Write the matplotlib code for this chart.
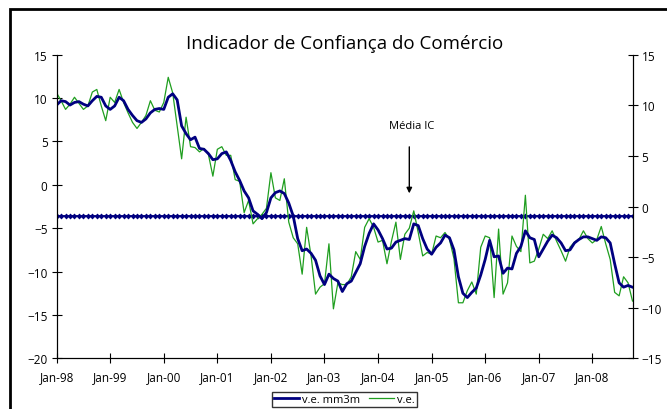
import numpy as np
import matplotlib
matplotlib.use('Agg')
import matplotlib.pyplot as plt
from matplotlib.patches import Rectangle

plt.rcParams['font.family'] = ['Open Sans', 'DejaVu Sans']

# %% Data: monthly values Jan-98 .. Oct-08
ve = [10.6, 9.7, 8.7, 9.3, 10.1, 9.4, 8.7, 9.1, 10.7, 11.0, 9.1, 7.4,
      10.1, 9.5, 11.0, 9.5, 8.3, 7.2, 6.5, 7.2, 8.0, 9.7, 8.6, 8.4,
      9.5, 12.4, 10.6, 6.8, 3.0, 7.8, 4.4, 4.3, 3.8, 4.2, 3.5, 1.0,
      4.1, 4.4, 3.4, 3.4, 0.6, 0.4, -3.2, -1.8, -4.5, -3.9, -3.4, -2.7,
      1.4, -1.5, -1.8, 0.7, -4.3, -6.1, -6.8, -10.3, -4.9, -8.2, -12.6, -11.8,
      -11.4, -6.8, -14.3, -11.3, -11.5, -11.5, -10.6, -7.7, -8.6, -4.9, -3.9, -4.9,
      -6.6, -6.4, -9.1, -6.5, -4.3, -8.6, -5.7, -5.0, -3.0, -5.5, -8.2, -7.8,
      -8.0, -5.9, -6.1, -5.5, -6.3, -8.5, -13.6, -13.6, -12.2, -11.2, -12.6, -7.2,
      -5.9, -6.1, -13.0, -5.1, -12.6, -11.3, -5.9, -7.1, -7.7, -1.2, -9.0, -8.8,
      -7.4, -5.7, -6.2, -5.3, -6.5, -7.6, -8.8, -7.2, -6.6, -6.3, -5.3, -6.2,
      -6.7, -6.3, -4.8, -6.8, -8.6, -12.4, -12.8, -10.6, -11.3, -13.4]

ve_mm3m = [9.2, 9.7, 9.6, 9.2, 9.5, 9.6, 9.3, 9.1, 9.7, 10.2, 10.1, 9.1,
           8.7, 9.1, 10.1, 9.7, 8.7, 8.0, 7.4, 7.2, 7.6, 8.3, 8.7, 8.8,
           8.7, 10.1, 10.5, 9.8, 6.8, 5.9, 5.2, 5.5, 4.2, 4.1, 3.6, 2.9,
           3.0, 3.6, 3.8, 2.8, 1.5, 0.5, -0.7, -1.5, -3.0, -3.4, -3.9, -3.2,
           -1.5, -0.9, -0.7, -1.0, -2.1, -3.6, -6.2, -7.6, -7.4, -7.9, -8.7, -10.5,
           -11.5, -10.3, -10.8, -11.1, -12.3, -11.4, -11.1, -10.1, -9.1, -7.1, -5.6, -4.5,
           -5.2, -6.2, -7.4, -7.3, -6.6, -6.4, -6.2, -6.3, -4.5, -4.7, -6.2, -7.4,
           -8.0, -7.2, -6.7, -5.8, -6.1, -7.5, -10.6, -12.5, -13.0, -12.4, -11.9, -10.4,
           -8.6, -6.4, -8.3, -8.2, -10.2, -9.6, -9.7, -7.9, -7.1, -5.3, -6.1, -6.3,
           -8.3, -7.4, -6.5, -5.8, -6.1, -6.7, -7.6, -7.5, -6.7, -6.3, -6.0, -6.0,
           -6.2, -6.4, -6.0, -6.1, -6.7, -9.1, -11.3, -11.8, -11.6, -11.8]

media_ic = -3.6
year_labels = ['Jan-98', 'Jan-99', 'Jan-00', 'Jan-01', 'Jan-02', 'Jan-03',
               'Jan-04', 'Jan-05', 'Jan-06', 'Jan-07', 'Jan-08']
left_ticks = [15, 10, 5, 0, -5, -10, -15, -20]
right_ticks = [15, 10, 5, 0, -5, -10, -15]
arrow_month = 79  # Aug-04

months = np.arange(len(ve))
media = np.full(len(ve), media_ic)

navy = '#000080'
green = '#1f9e1f'

# %% Figure
fig = plt.figure(figsize=(6.67, 4.10), dpi=100)
ax = fig.add_axes([0.0849, 0.1237, 0.8634, 0.7403])

ax.plot(months, media, color=navy, lw=1.3, marker='D', ms=3.0,
        markeredgewidth=0, zorder=2)
l1, = ax.plot(months, ve_mm3m, color=navy, lw=2.0, label='v.e. mm3m', zorder=4)
l2, = ax.plot(months, ve, color=green, lw=0.9, label='v.e.', zorder=3)

ax.set_xlim(0, months[-1])
ax.set_ylim(-20, 15)
ax.set_yticks(left_ticks)
ax.set_xticks(np.arange(0, len(ve), 12))
ax.set_xticklabels(year_labels)
ax.tick_params(direction='inout', length=7, width=0.8, labelsize=8.5,
               colors='black')
ax.tick_params(axis='x', pad=5)
ax.tick_params(axis='y', pad=3)
ax.spines['top'].set_visible(False)
for s in ['left', 'bottom', 'right']:
    ax.spines[s].set_linewidth(0.8)

ax2 = ax.twinx()
ax2.set_ylim(-15, 15)
ax2.set_yticks(right_ticks)
ax2.tick_params(direction='inout', length=7, width=0.8, labelsize=8.5, pad=3)
ax2.spines['top'].set_visible(False)
ax2.spines['right'].set_linewidth(0.8)

ax.set_title('Indicador de Confiança do Comércio', fontsize=13.5, pad=5)

# annotation Média IC
ax.annotate('', xy=(arrow_month, -1.3), xytext=(arrow_month, 4.7),
            arrowprops=dict(arrowstyle='-|>', color='black', lw=1,
                            mutation_scale=8))
ax.text(arrow_month + 0.6, 6.9, 'Média IC', ha='center', va='center',
        fontsize=8)

fig.legend(handles=[l1, l2], loc='upper center',
           bbox_to_anchor=(0.5165, 0.0415), ncol=2, fontsize=8,
           frameon=True, fancybox=False, edgecolor='black',
           handlelength=2.2, handletextpad=0.3, columnspacing=0.8,
           borderpad=0.2, borderaxespad=0)

# outer chart border
fig.patches.append(Rectangle((10 / 667, -0.2), 1.2, 1 - 10 / 410 + 0.2,
                             transform=fig.transFigure, fill=False,
                             edgecolor='black', lw=2))

fig.savefig('out.png', dpi=100)
